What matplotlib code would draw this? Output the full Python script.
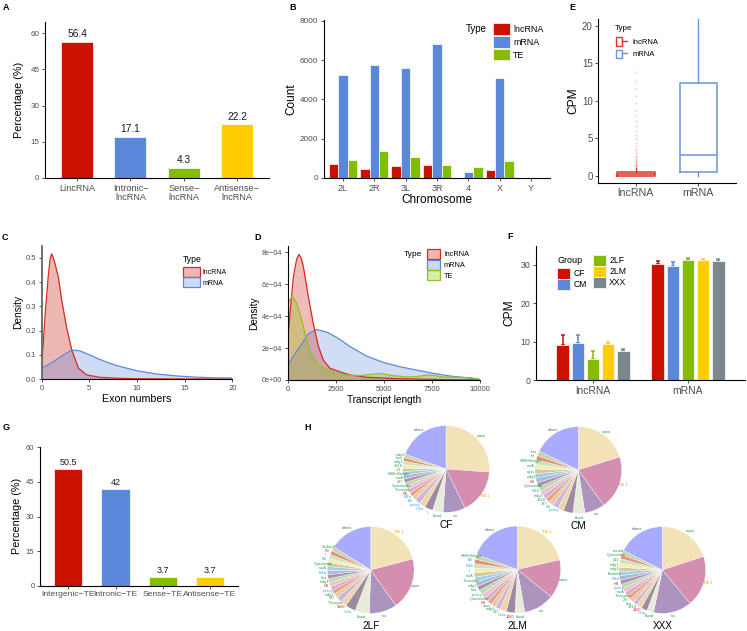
import numpy as np
import matplotlib.pyplot as plt
from matplotlib.patches import Patch
from matplotlib.lines import Line2D
from matplotlib.legend_handler import HandlerTuple

plt.rcParams['font.family'] = ['Liberation Sans', 'DejaVu Sans']
plt.rcParams['axes.linewidth'] = 0.8

RED = '#CC1100'
BLUE = '#5B88DA'
GREEN = '#84BD00'
YELLOW = '#FFCD00'
GREY = '#7C878E'

# ---- A: lncRNA classes
lnc_classes = ['LincRNA', 'Intronic\u2212\nlncRNA', 'Sense\u2212\nlncRNA', 'Antisense\u2212\nlncRNA']
lnc_pct = [56.4, 17.1, 4.3, 22.2]
lnc_pct_text = ['56.4', '17.1', '4.3', '22.2']

# ---- B: counts per chromosome
chroms = ['2L', '2R', '3L', '3R', '4', 'X', 'Y']
chrom_lnc = [720, 460, 630, 650, 20, 390, 6]
chrom_mrna = [5270, 5760, 5590, 6850, 285, 5100, 10]
chrom_te = [910, 1380, 1080, 660, 556, 870, 5]

# ---- C: exon number density
exon_x_lnc = [0, 0.35, 0.7, 0.9, 1.05, 1.3, 1.75, 2.1, 2.6, 3.15, 3.85, 4.7, 6.1, 8, 10, 15, 20]
exon_d_lnc = [0.05, 0.26, 0.43, 0.50, 0.516, 0.49, 0.42, 0.325, 0.215, 0.12, 0.045, 0.017,
              0.007, 0.003, 0.001, 0.0, 0.0]
exon_x_mrna = [0, 1, 2, 3, 3.3, 4, 5, 6, 7, 8, 10, 12, 14, 16, 18, 20]
exon_d_mrna = [0.044, 0.066, 0.092, 0.116, 0.119, 0.116, 0.100, 0.082, 0.067, 0.054, 0.034,
               0.021, 0.013, 0.008, 0.005, 0.004]

# ---- D: transcript length density
len_x_lnc = [0, 120, 300, 470, 590, 700, 815, 1075, 1335, 1600, 1850, 2200, 2700, 3250, 4100,
             5800, 8000, 10000]
len_d_lnc = [2.4e-4, 4.2e-4, 6.5e-4, 7.6e-4, 7.87e-4, 7.65e-4, 7.1e-4, 5.2e-4, 3.5e-4, 2.1e-4,
             1.25e-4, 0.73e-4, 0.52e-4, 0.31e-4, 0.17e-4, 0.08e-4, 0.03e-4, 0.0]
len_x_mrna = [0, 300, 640, 1075, 1510, 2030, 2550, 3240, 4100, 4970, 5840, 6700, 7570, 8440, 10000]
len_d_mrna = [0.88e-4, 1.5e-4, 2.1e-4, 2.9e-4, 3.17e-4, 3.0e-4, 2.67e-4, 2.1e-4, 1.5e-4, 1.1e-4,
              0.83e-4, 0.62e-4, 0.42e-4, 0.25e-4, 0.04e-4]
len_x_te = [0, 243, 468, 728, 990, 1250, 1510, 1855, 2370, 3070, 3760, 4630, 4970, 5490, 6190,
            6700, 7230, 7570, 8090, 8790, 9480, 10000]
len_d_te = [4.8e-4, 5.26e-4, 4.8e-4, 3.76e-4, 2.5e-4, 1.57e-4, 1.04e-4, 0.73e-4, 0.46e-4, 0.31e-4,
            0.27e-4, 0.40e-4, 0.38e-4, 0.27e-4, 0.19e-4, 0.21e-4, 0.31e-4, 0.29e-4, 0.19e-4,
            0.17e-4, 0.15e-4, 0.03e-4]

# ---- E: CPM boxplots
cpm_types = ['lncRNA', 'mRNA']
cpm_q1 = [0.02, 0.5]
cpm_med = [0.22, 2.8]
cpm_q3 = [0.48, 12.4]
cpm_lo = [0.0, 0.0]
cpm_hi = [1.1, 32.0]
lnc_cpm_outliers = [1.2, 1.3, 1.4, 1.5, 1.6, 1.8, 1.9, 2.1, 2.3, 2.5, 2.7, 3.0, 3.3, 3.6, 4.0,
                    4.4, 4.9, 5.4, 6.0, 6.6, 7.3, 8.0, 8.8, 9.7, 10.6, 11.6, 12.7, 13.9]

# ---- F: CPM per group
groups = ['CF', 'CM', '2LF', '2LM', 'XXX']
group_colors = [RED, BLUE, GREEN, YELLOW, GREY]
f_lnc_mean = [9.2, 9.7, 5.6, 9.5, 7.6]
f_lnc_err = [2.5, 2.0, 1.9, 0.5, 0.5]
f_mrna_mean = [30.3, 29.8, 31.3, 31.2, 30.9]
f_mrna_err = [0.6, 1.0, 0.4, 0.35, 0.6]

# ---- G: TE classes
te_classes = ['Intergenic\u2212TE', 'Intronic\u2212TE', 'Sense\u2212TE', 'Antisense\u2212TE']
te_pct = [50.5, 42, 3.7, 3.7]
te_pct_text = ['50.5', '42', '3.7', '3.7']

# ---- H: TE family pies (clockwise from 12 o'clock)
cf_names = ['copia', 'INE-1', 'roo', 'blood', 'I', 'Cr1a', 'jockey', 'BS', 'Rt1b', 'HB', 'Transpac',
            'Quasimodo', '297', 'rooA', 'HMS\u2212Beagle', 'H', '3S18', 'mdg1', 'flea', 'mdg3', 'others']
cf_sizes = [26.1, 16.6, 8.3, 3.9, 3.1, 2.3, 2.2, 1.5, 1.5, 1.4, 1.4, 1.4, 1.4, 1.4, 1.4, 1.3, 1.3,
            1.3, 1.3, 1.3, 19.4]
cm_names = ['copia', 'INE-1', 'roo', 'blood', '', '', 'jockey', 'BS', '297', '3S18', 'mdg3', 'Rt1b',
            'Quasimodo', 'HB', 'mdg1', 'opus', 'rooA', 'HMS\u2212Beagle', 'H', 'flea', 'others']
cm_sizes = [20.1, 19.9, 7.5, 4.4, 3.6, 2.2, 2.2, 1.7, 1.7, 1.7, 1.7, 1.7, 1.7, 1.7, 1.7, 1.7, 1.7,
            1.7, 1.7, 1.7, 17.8]
lf_names = ['INE-1', 'copia', 'roo', 'blood', 'Cr1a', '1360', 'Transpac', '297', 'mdg3', 'jockey',
            'HB', 'mdg1', 'flea', 'Rt1b', 'rooA', 'Quasimodo', 'BS', 'I', 'FB', 'Stalker2', 'others']
lf_sizes = [20.9, 19.3, 10.3, 5.3, 3.9, 2.2, 2.2, 1.52, 1.52, 1.52, 1.52, 1.52, 1.52, 1.52, 1.52,
            1.52, 1.52, 1.52, 1.52, 1.52, 16.1]
lm_names = ['INE-1', 'copia', 'roo', 'blood', '1360', 'Cr1a', '297', 'mdg3', 'opus', 'HB', 'Quasimodo',
            'jockey', 'flea', 'mdg1', 'Transpac', 'rooA', 'I', 'Rt1b', 'BS', 'HMS\u2212Beagle', 'others']
lm_sizes = [21.4, 14.4, 11.4, 3.6, 3.3, 2.3, 2.0, 1.7, 1.7, 1.7, 1.7, 1.7, 1.7, 1.7, 1.7, 1.7, 1.7,
            1.7, 1.7, 1.7, 19.4]
xxx_names = ['copia', 'INE-1', 'roo', 'blood', 'Cr1a', '1360', '3S18', 'flea', '297', 'Transpac', 'rooA',
             'jockey', 'HB', 'Rt1b', 'Burdock', 'mdg3', 'mdg1', '412', 'Quasimodo', 'accord', 'others']
xxx_sizes = [20.0, 19.0, 14.3, 2.5, 2.3, 2.0, 1.6, 1.6, 1.6, 1.6, 1.6, 1.6, 1.6, 1.6, 1.6, 1.6, 1.6,
             1.6, 1.6, 1.6, 17.6]

PIE_COLORS = ['#F3E2B8', '#D58DB0', '#AD94BF', '#E8EBD9', '#9C8BA2', '#F2D3A8', '#C9B8DB', '#EFC49E',
              '#E3A284', '#D4AFCB', '#EFBFCB', '#B4E0A8', '#B48CB8', '#A8BCD0', '#9CD0EC', '#D8C898',
              '#F0EEB8', '#CDE4B8', '#E89080', '#C4D6A8']
OTHERS_COLOR = '#AAAAFF'
TE_LABEL_CLASS = {'INE-1': '#F5A00A', 'Cr1a': '#3AA8E0', 'jockey': '#3AA8E0', 'BS': '#3AA8E0',
                  'Rt1b': '#3AA8E0', 'I': '#3AA8E0', 'HB': '#E41A1C', 'H': '#E41A1C',
                  '1360': '#E41A1C', 'FB': '#A43CB5', 'others': '#555555'}
TE_DEFAULT = '#2E9D49'

W, H = 747, 631
fig = plt.figure(figsize=(W / 100, H / 100), dpi=100)


def px_axes(x0, y0, x1, y1):
    return fig.add_axes([x0 / W, 1 - y1 / H, (x1 - x0) / W, (y1 - y0) / H])


def fx(x):
    return x / W


def fy(y):
    return 1 - y / H


def classic(ax, xsize, ysize):
    for s in ['top', 'right']:
        ax.spines[s].set_visible(False)
    ax.tick_params(axis='x', labelsize=xsize, labelcolor='#4D4D4D', color='#333333',
                   length=2.5, width=0.6, pad=1.5)
    ax.tick_params(axis='y', labelsize=ysize, labelcolor='#4D4D4D', color='#333333',
                   length=2.5, width=0.6, pad=1.5)


def legend_at(ax, handles, labels, x, y, fs, hl, hh, ls, tp, **kw):
    return ax.legend(handles, labels, loc='upper left', bbox_to_anchor=(fx(x), fy(y)),
                     bbox_transform=fig.transFigure, frameon=False, fontsize=fs,
                     handlelength=hl, handleheight=hh, labelspacing=ls, handletextpad=tp,
                     borderpad=0, borderaxespad=0, **kw)


def panel_letter(x, y, s):
    fig.text(fx(x), fy(y), s, fontsize=6.5, fontweight='bold', ha='left', va='top')


# ---------------- A
axA = px_axes(45, 22, 269.3, 178)
xa = np.arange(len(lnc_classes))
axA.bar(xa, lnc_pct, width=0.6, color=[RED, BLUE, GREEN, YELLOW], edgecolor='white', linewidth=0.5)
for x, v, t in zip(xa, lnc_pct, lnc_pct_text):
    axA.text(x, v + 1.2, t, ha='center', va='bottom', fontsize=7.4, color='#1A1A1A')
axA.set_xlim(-0.6, 3.6)
axA.set_ylim(0, 64.7)
axA.set_yticks([0, 15, 30, 45, 60])
axA.set_xticks(xa, lnc_classes)
classic(axA, 6.6, 5.8)
for lbl in axA.get_xticklabels():
    lbl.set_linespacing(1.0)
axA.set_ylabel('Percentage (%)', fontsize=7.8, labelpad=5)
panel_letter(2.5, 3.5, 'A')

# ---------------- B
axB = px_axes(324, 20, 550, 178)
xb = np.arange(len(chroms))
for k, (vals, c) in enumerate(zip([chrom_lnc, chrom_mrna, chrom_te], [RED, BLUE, GREEN])):
    axB.bar(xb + (k - 1) * 0.3, vals, width=0.3, color=c, edgecolor='white', linewidth=0.5)
axB.set_xlim(-0.6, 6.6)
axB.set_ylim(0, 8050)
axB.set_yticks([0, 2000, 4000, 6000, 8000])
axB.set_xticks(xb, chroms)
classic(axB, 6.5, 5.9)
axB.set_ylabel('Count', fontsize=8.5, labelpad=2)
axB.set_xlabel('Chromosome', fontsize=8.5, labelpad=1)
legend_at(axB, [Patch(fc=c, ec='white', lw=0.5) for c in [RED, BLUE, GREEN]], ['lncRNA', 'mRNA', 'TE'],
          493, 23.5, 6.4, 1.9, 1.6, 0.15, 0.35)
fig.text(fx(466), fy(28.5), 'Type', fontsize=7, ha='left', va='center')
panel_letter(289, 3.5, 'B')

# ---------------- E
axE = px_axes(598.3, 18.5, 736, 182.7)
E_COLORS = ['#E0302A', '#6A93E0']
stats = []
for i, name in enumerate(cpm_types):
    stats.append(dict(med=cpm_med[i], q1=cpm_q1[i], q3=cpm_q3[i], whislo=cpm_lo[i], whishi=cpm_hi[i],
                      fliers=np.array(lnc_cpm_outliers if i == 0 else []), label=name))
bp = axE.bxp(stats, positions=[1, 2], widths=0.6, showcaps=False,
             flierprops=dict(marker='o', markersize=1.5, markeredgecolor='none', alpha=0.22))
for i, c in enumerate(E_COLORS):
    bp['boxes'][i].set_color(c)
    bp['boxes'][i].set_linewidth(1.1)
    bp['medians'][i].set_color(c)
    bp['medians'][i].set_linewidth(1.1)
    bp['whiskers'][2 * i].set_color(c)
    bp['whiskers'][2 * i + 1].set_color(c)
    bp['fliers'][i].set_markerfacecolor(c)
axE.set_xlim(0.4, 2.6)
axE.set_ylim(-0.9, 21)
axE.set_yticks([0, 5, 10, 15, 20])
axE.set_xticks([1, 2], cpm_types)
classic(axE, 7.7, 7.0)
axE.set_ylabel('CPM', fontsize=8.6, labelpad=2)
e_handles = [(Patch(fc='white', ec=c, lw=1), Line2D([], [], color=c, lw=1)) for c in E_COLORS]
legend_at(axE, e_handles, cpm_types, 616, 37.5, 5.5, 1.45, 1.3, 0.43, 0.7,
          handler_map={tuple: HandlerTuple(ndivide=None)})
fig.text(fx(615), fy(28.5), 'Type', fontsize=5.8, ha='left', va='center')
panel_letter(569, 3.5, 'E')

# ---------------- C
axC = px_axes(41.7, 245.7, 232.3, 379)
axC.fill_between(exon_x_lnc, exon_d_lnc, color=RED, alpha=0.3, lw=0)
axC.fill_between(exon_x_mrna, exon_d_mrna, color=BLUE, alpha=0.3, lw=0)
axC.plot(exon_x_lnc, exon_d_lnc, color='#D62A22', lw=0.9)
axC.plot(exon_x_mrna, exon_d_mrna, color='#5B88DA', lw=0.9)
axC.set_xlim(0, 20)
axC.set_ylim(0, 0.55)
axC.set_xticks([0, 5, 10, 15, 20])
axC.set_yticks([0, 0.1, 0.2, 0.3, 0.4, 0.5], ['0.0', '0.1', '0.2', '0.3', '0.4', '0.5'])
classic(axC, 5.5, 5.5)
axC.spines['left'].set_color('#666666')
axC.spines['left'].set_linewidth(1.3)
axC.set_xlabel('Exon numbers', fontsize=7.7, labelpad=1.5)
axC.set_ylabel('Density', fontsize=7.3, labelpad=2)
c_handles = [Patch(fc=(0.8, 0.07, 0, 0.3), ec='#D62A22', lw=0.9), Patch(fc=(0.36, 0.53, 0.85, 0.3), ec=BLUE, lw=0.9)]
legend_at(axC, c_handles, ['lncRNA', 'mRNA'], 183.3, 267, 5, 2.45, 1.85, 0.05, 0.3)
fig.text(fx(183), fy(259), 'Type', fontsize=6.2, ha='left', va='center')
panel_letter(2, 233, 'C')

# ---------------- D
axD = px_axes(287.7, 246, 480, 380)
for xs, ds, c in [(len_x_mrna, len_d_mrna, BLUE), (len_x_lnc, len_d_lnc, RED), (len_x_te, len_d_te, GREEN)]:
    axD.fill_between(xs, ds, color=c, alpha=0.28, lw=0)
for xs, ds, lc in [(len_x_mrna, len_d_mrna, '#5B88DA'), (len_x_lnc, len_d_lnc, '#D62A22'),
                   (len_x_te, len_d_te, '#8FC21E')]:
    axD.plot(xs, ds, color=lc, lw=0.9)
axD.set_xlim(0, 10000)
axD.set_ylim(0, 8.4e-4)
axD.set_xticks([0, 2500, 5000, 7500, 10000], ['0', '2500', '5000', '7500', '10000'])
axD.set_yticks([0, 2e-4, 4e-4, 6e-4, 8e-4], ['0e+00', '2e\u221204', '4e\u221204', '6e\u221204', '8e\u221204'])
classic(axD, 5.4, 5.2)
axD.set_xlabel('Transcript length', fontsize=7.2, labelpad=1.5)
axD.set_ylabel('Density', fontsize=7.2, labelpad=2)
d_handles = [Patch(fc=(0.8, 0.07, 0, 0.3), ec='#D62A22', lw=0.9),
             Patch(fc=(0.36, 0.53, 0.85, 0.3), ec=BLUE, lw=0.9),
             Patch(fc=(0.52, 0.74, 0, 0.3), ec='#8FC21E', lw=0.9)]
legend_at(axD, d_handles, ['lncRNA', 'mRNA', 'TE'], 427, 249, 5.3, 1.76, 1.76, 0.04, 0.55)
fig.text(fx(404), fy(254), 'Type', fontsize=6, ha='left', va='center')
panel_letter(254, 232.5, 'D')

# ---------------- F
axF = px_axes(536, 245.7, 745, 380)
xf = np.arange(2)
for i, (g, c) in enumerate(zip(groups, group_colors)):
    means = [f_lnc_mean[i], f_mrna_mean[i]]
    errs = [f_lnc_err[i], f_mrna_err[i]]
    pos = xf + (i - 2) * 0.16
    axF.errorbar(pos, means, yerr=[[0, 0], errs], fmt='none', ecolor=c, elinewidth=1.1,
                 capsize=1.7, capthick=1.1, zorder=1)
    axF.bar(pos, means, width=0.13, color=c, edgecolor='white', linewidth=0.5, zorder=2)
axF.set_xlim(-0.6, 1.6)
axF.set_ylim(0, 35)
axF.set_yticks([0, 10, 20, 30])
axF.set_xticks(xf, ['lncRNA', 'mRNA'])
classic(axF, 7.5, 6.3)
axF.set_ylabel('CPM', fontsize=8.6, labelpad=4)
f_handles = [Patch(fc=c, ec='white', lw=0.5) for c in group_colors]
leg1 = legend_at(axF, f_handles[:2], groups[:2], 557.3, 268.3, 6.2, 1.5, 1.5, 0.04, 0.35)
axF.add_artist(leg1)
legend_at(axF, f_handles[2:], groups[2:], 593.3, 255.3, 6.2, 1.5, 1.5, 0.04, 0.35)
fig.text(fx(557), fy(260.5), 'Group', fontsize=6.5, ha='left', va='center')
panel_letter(507, 232, 'F')

# ---------------- G
axG = px_axes(40, 446.7, 238.3, 585.7)
xg = np.arange(len(te_classes))
axG.bar(xg, te_pct, width=0.6, color=[RED, BLUE, GREEN, YELLOW], edgecolor='white', linewidth=0.5)
for x, v, t in zip(xg, te_pct, te_pct_text):
    axG.text(x, v + 1.0, t, ha='center', va='bottom', fontsize=6.4, color='#1A1A1A')
axG.set_xlim(-0.6, 3.6)
axG.set_ylim(0, 60.3)
axG.set_yticks([0, 15, 30, 45, 60])
axG.set_xticks(xg, te_classes)
classic(axG, 6.1, 5.5)
axG.set_ylabel('Percentage (%)', fontsize=7.8, labelpad=2.5)
panel_letter(2.5, 423.5, 'G')

# ---------------- H
R = 43.4


def draw_pie(cx, cy, names, sizes, title):
    ax = px_axes(cx - 1.6 * R, cy - 1.6 * R, cx + 1.6 * R, cy + 1.6 * R)
    colors = PIE_COLORS[:len(sizes) - 1] + [OTHERS_COLOR]
    wedges, _ = ax.pie(sizes, colors=colors, startangle=90, counterclock=False,
                       wedgeprops=dict(linewidth=0.25, edgecolor='white'))
    for w, name in zip(wedges, names):
        ang = np.deg2rad((w.theta1 + w.theta2) / 2)
        ax.text(1.1 * np.cos(ang), 1.1 * np.sin(ang), name, fontsize=2.7,
                color=TE_LABEL_CLASS.get(name, TE_DEFAULT), ha='center', va='center')
    ax.text(0, -1.3, title, fontsize=7.2, ha='center', va='center')
    ax.set_xlim(-1.6, 1.6)
    ax.set_ylim(-1.6, 1.6)
    ax.set_aspect('equal')
    ax.axis('off')


draw_pie(446, 469, cf_names, cf_sizes, 'CF')
draw_pie(578.3, 470, cm_names, cm_sizes, 'CM')
draw_pie(370.7, 570, lf_names, lf_sizes, '2LF')
draw_pie(517.3, 569.5, lm_names, lm_sizes, '2LM')
draw_pie(662.3, 570, xxx_names, xxx_sizes, 'XXX')
panel_letter(304, 423, 'H')

fig.savefig('out.png', dpi=100)
